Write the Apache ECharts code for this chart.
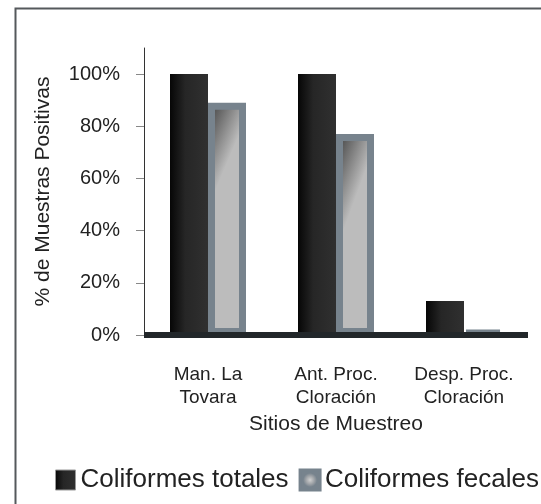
<!DOCTYPE html>
<html>
<head>
<meta charset="utf-8">
<script src="https://cdn.jsdelivr.net/npm/echarts@6/dist/echarts.min.js"></script>
<style>html,body{margin:0;padding:0;background:#fff;}#c{width:541px;height:504px;}</style>
</head>
<body>
<div id="c"></div>
<script>
const categories = ['Man. La\nTovara', 'Ant. Proc.\nCloración', 'Desp. Proc.\nCloración'];
const totales = [100, 100, 13];
const fecales = [89, 77, 1.5];
const yTicks = [0, 20, 40, 60, 80, 100];
const seriesNames = ['Coliformes totales', 'Coliformes fecales'];

const FONT = "'Liberation Sans', Arial, sans-serif";
const chart = echarts.init(document.getElementById('c'));
const blackGrad = new echarts.graphic.LinearGradient(0, 0, 1, 0, [
  {offset: 0, color: '#060606'},
  {offset: 0.4, color: '#262626'},
  {offset: 1, color: '#303030'}
]);
const grayGrad = new echarts.graphic.LinearGradient(0, 0, 1, 0.07, [
  {offset: 0, color: '#3a3a3a'},
  {offset: 0.85, color: '#a8a8a8'},
  {offset: 1, color: '#bcbcbc'}
]);
const iconGrad = new echarts.graphic.RadialGradient(0.5, 0.5, 0.5, [
  {offset: 0, color: '#d0d0d0'},
  {offset: 0.35, color: '#a0a4a8'},
  {offset: 0.6, color: '#77838d'},
  {offset: 1, color: '#77838d'}
]);
chart.setOption({
  animation: false,
  backgroundColor: '#fff',
  graphic: [{
    type: 'rect', left: 13, top: 6, z: 100,
    shape: {x: 0, y: 0, width: 620, height: 620},
    style: {fill: 'none', stroke: '#55595c', lineWidth: 2}
  }],
  grid: {left: 144, right: 13, top: 48, bottom: 169},
  legend: {
    left: 55, top: 467, padding: 0, itemGap: 10,
    itemWidth: 20, itemHeight: 20, icon: 'rect',
    textStyle: {fontFamily: FONT, fontSize: 26, color: '#222'},
    data: [
      {name: seriesNames[0], itemStyle: {color: blackGrad, borderColor: '#999', borderWidth: 1}},
      {name: seriesNames[1], itemStyle: {color: iconGrad, borderColor: '#77838d', borderWidth: 3}}
    ]
  },
  xAxis: {
    type: 'category', data: categories, z: 10,
    name: 'Sitios de Muestreo', nameLocation: 'middle', nameGap: 76,
    nameTextStyle: {fontFamily: FONT, fontSize: 21, color: '#222'},
    axisLine: {lineStyle: {color: '#22272a', width: 6, cap: 'butt'}},
    axisTick: {show: false},
    axisLabel: {fontFamily: FONT, fontSize: 19, color: '#222', lineHeight: 23, margin: 28, interval: 0}
  },
  yAxis: {
    type: 'value', min: 0, max: 110,
    name: '% de Muestras Positivas', nameLocation: 'middle', nameGap: 90,
    nameTextStyle: {fontFamily: FONT, fontSize: 21, color: '#222'},
    splitLine: {show: false},
    axisLine: {show: true, lineStyle: {color: '#333', width: 1}},
    axisTick: {show: true, length: 8, lineStyle: {color: '#888'}, customValues: yTicks},
    axisLabel: {fontFamily: FONT, fontSize: 20, color: '#222', margin: 24,
      customValues: yTicks, formatter: v => v + '%'}
  },
  series: [
    {name: seriesNames[0], type: 'bar', data: totales, barWidth: 38, barGap: '0%',
      itemStyle: {color: blackGrad}},
    {name: seriesNames[1], type: 'bar', data: fecales, barWidth: 38,
      itemStyle: {color: grayGrad, borderColor: '#77838d', borderWidth: 7}}
  ]
});
</script>
</body>
</html>
